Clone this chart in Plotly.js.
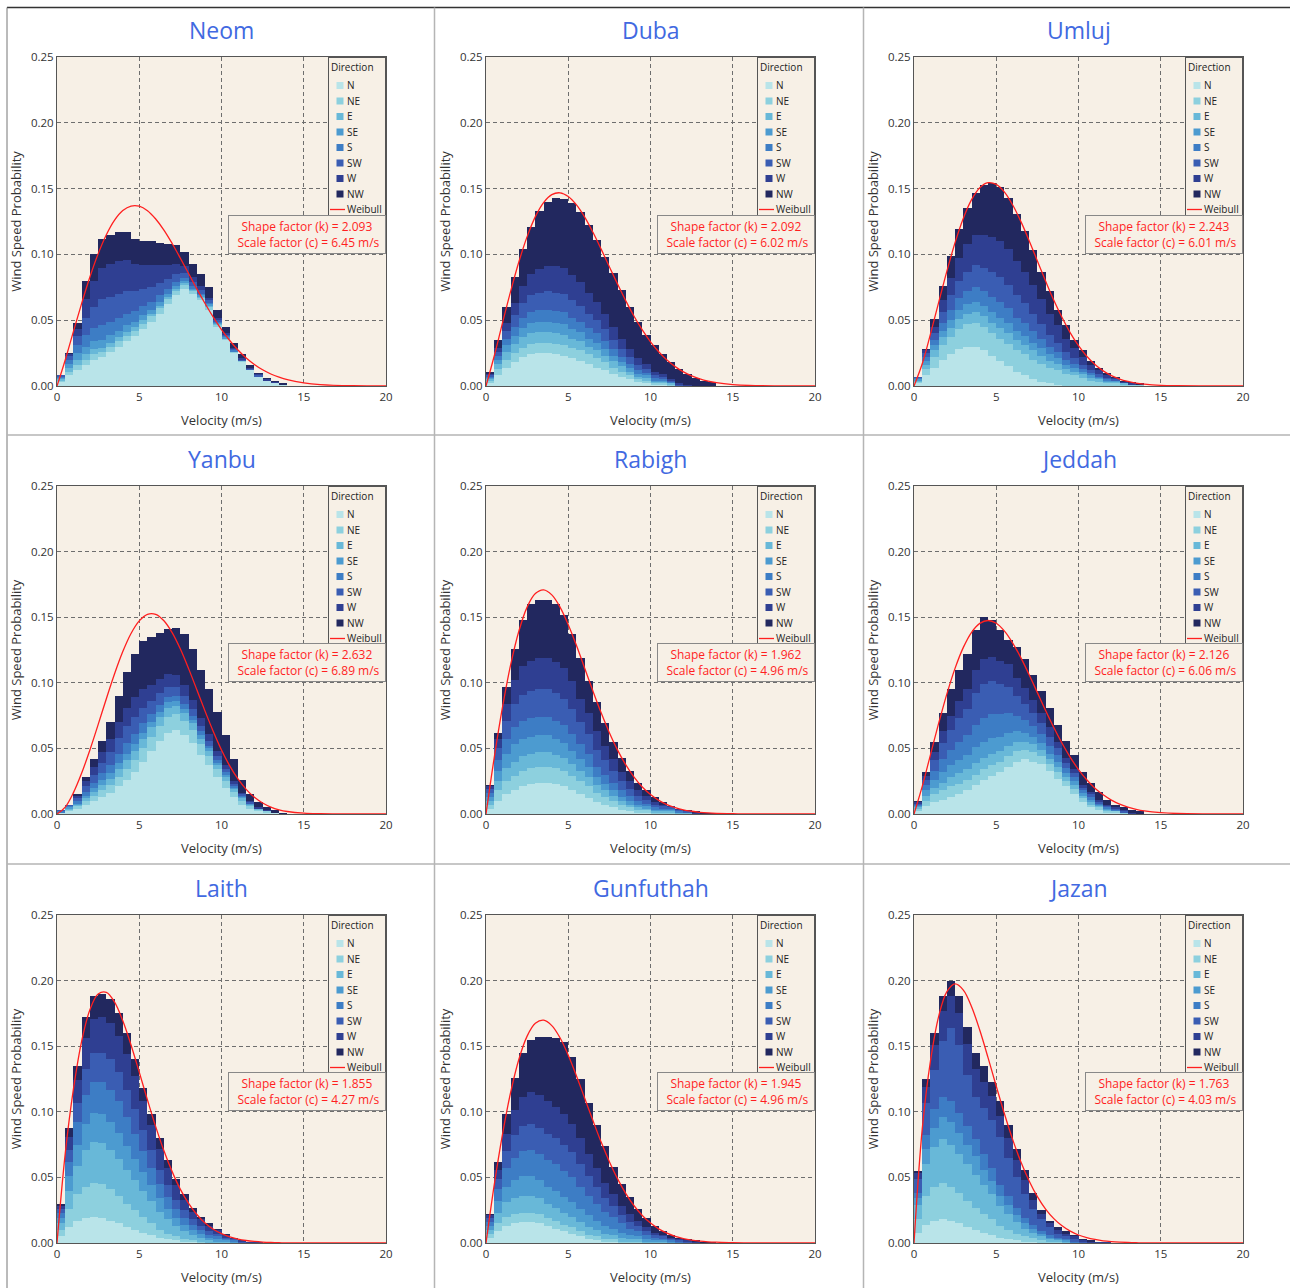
<!DOCTYPE html>
<html><head><meta charset="utf-8">
<script src="https://cdn.plot.ly/plotly-3.0.1.min.js"></script>
<style>html,body{margin:0;padding:0;background:#fff}#chart{width:1290px;height:1288px}</style>
</head><body><div id="chart"></div>
<script>
// ---------------- DATA ----------------
const stations = ['Neom','Duba','Umluj','Yanbu','Rabigh','Jeddah','Laith','Gunfuthah','Jazan'];
const shapeK = [2.093, 2.092, 2.243, 2.632, 1.962, 2.126, 1.855, 1.945, 1.763];
const scaleC = [6.45, 6.02, 6.01, 6.89, 4.96, 6.06, 4.27, 4.96, 4.03];
const directions = ['N','NE','E','SE','S','SW','W','NW'];
const velocityTicks = [0, 5, 10, 15, 20];
const probTicks = [0, 0.05, 0.10, 0.15, 0.20, 0.25];

// histogram bin centres (m/s), 0.5 m/s bins
const binCenters = [0.25,0.75,1.25,1.75,2.25,2.75,3.25,3.75,4.25,4.75,5.25,5.75,6.25,6.75,7.25,7.75,8.25,8.75,9.25,9.75,10.25,10.75,11.25,11.75,12.25,12.75,13.25,13.75];
// velocities at which the Weibull curve is read
const weibullX = [0,0.5,1,1.5,2,2.5,3,3.5,4,4.5,5,5.5,6,6.5,7,7.5,8,8.5,9,9.5,10,10.5,11,11.5,12,12.5,13,13.5,14,15,16,18,20];

// stacked histogram layers, probability in per-mille (x 0.001)
const neomN  = [3,8,12,16,20,22,26,30,34,38,43,49,55,62,69,74,70,65,58,45,35,25,18,12,7,4,2,1];
const neomNE = [1,3,4,4,4,4,4,4,4,4,4,4,4,4,3,3,2,2,2,1,1,1,1,0,0,0,0,0];
const neomE  = [1,3,4,4,4,3,3,3,3,3,3,2,2,2,2,1,1,1,1,1,0,0,0,0,0,0,0,0];
const neomSE = [1,3,5,6,6,6,6,5,5,4,4,3,3,2,2,2,1,1,1,1,1,0,0,0,0,0,0,0];
const neomS  = [1,3,6,9,10,11,10,10,9,8,7,6,5,4,3,2,2,1,1,1,1,1,0,0,0,0,0,0];
const neomSW = [1,3,7,13,16,20,19,18,17,15,13,11,9,7,6,4,3,3,2,1,1,1,1,1,1,0,0,0];
const neomW  = [0,1,5,14,20,24,25,25,24,21,18,17,14,11,8,5,4,3,2,2,1,1,1,1,1,1,1,0];
const neomNW = [0,1,5,14,20,22,22,22,21,19,18,18,17,16,14,11,10,9,8,6,5,4,3,2,1,1,1,1];

const dubaN  = [2,8,14,18,22,24,25,25,24,23,21,19,17,14,12,9,7,5,3,2,1,1,0,0,0,0,0,0];
const dubaNE = [2,5,6,7,7,8,8,8,8,8,8,8,7,7,6,5,4,3,2,2,1,1,1,0,0,0,0,0];
const dubaE  = [1,4,6,7,8,8,8,8,8,8,7,7,6,6,5,5,4,3,2,2,1,1,1,0,0,0,0,0];
const dubaSE = [1,3,5,6,7,8,8,8,8,8,7,7,6,6,5,4,3,3,2,2,1,1,0,0,0,0,0,0];
const dubaS  = [1,3,5,7,8,8,9,9,9,9,9,8,8,7,6,5,4,3,3,2,2,1,1,0,0,0,0,0];
const dubaSW = [1,3,6,9,11,13,13,14,14,14,13,12,11,10,9,7,6,5,4,3,2,2,1,1,0,0,0,0];
const dubaW  = [1,3,6,9,13,16,18,19,20,20,19,18,16,14,12,10,8,6,5,4,3,2,1,1,1,0,0,0];
const dubaNW = [2,6,12,20,28,36,44,49,52,52,55,53,51,47,43,41,37,32,28,22,20,15,13,11,8,6,4,3];

const umlujN  = [2,8,14,20,24,28,30,30,27,23,19,15,11,8,5,3,2,1,0,0,0,0,0,0,0,0,0,0];
const umlujNE = [1,5,8,11,13,15,17,18,18,17,17,17,16,16,15,14,12,11,9,8,6,4,3,2,2,1,1,1];
const umlujE  = [1,3,5,6,7,8,8,8,8,8,8,8,8,7,7,6,5,5,4,3,3,2,2,1,1,1,0,0];
const umlujSE = [1,3,4,5,6,7,7,8,8,8,8,8,7,7,6,6,5,4,3,3,2,2,1,1,1,0,0,0];
const umlujS  = [1,3,4,6,8,9,10,11,11,12,12,11,10,10,9,7,6,5,4,3,2,2,1,1,0,0,0,0];
const umlujSW = [1,3,5,8,11,13,15,17,18,19,19,18,17,15,13,11,9,7,6,4,3,2,2,1,1,0,0,0];
const umlujW  = [0,2,5,9,13,17,21,23,25,26,27,27,26,24,22,19,16,13,10,8,6,4,3,2,1,1,1,0];
const umlujNW = [0,1,6,11,17,22,27,32,38,41,41,39,36,31,26,21,17,12,10,6,5,3,2,2,1,1,1,1];

const yanbuN  = [1,2,4,7,10,13,16,21,26,32,40,48,56,62,64,60,54,45,37,28,20,13,7,4,2,1,1,0];
const yanbuNE = [0,1,2,3,4,5,6,7,8,9,10,11,11,12,12,11,10,8,7,6,5,4,3,2,1,1,0,0];
const yanbuE  = [0,1,1,2,3,4,5,6,7,7,7,7,7,7,6,6,5,4,4,3,3,2,2,1,1,0,0,0];
const yanbuSE = [0,1,1,2,3,4,4,5,5,5,5,4,4,4,4,3,3,3,2,2,2,1,1,1,0,0,0,0];
const yanbuS  = [1,1,2,3,4,5,6,7,8,8,7,6,5,4,4,4,3,3,2,2,2,1,1,0,0,0,0,0];
const yanbuSW = [1,1,2,4,6,8,10,12,13,13,12,10,9,8,7,6,5,4,4,3,2,2,1,1,0,0,0,0];
const yanbuW  = [0,0,2,4,6,8,10,12,14,15,14,12,11,10,9,8,7,6,5,4,3,2,1,1,1,1,0,0];
const yanbuNW = [0,0,1,3,6,9,13,20,27,33,37,37,35,34,36,39,39,37,34,30,23,17,10,5,4,2,2,1];

const rabighN  = [4,10,15,18,21,23,24,24,23,21,18,15,12,9,7,5,3,2,1,1,0,0,0,0,0,0,0,0];
const rabighNE = [3,8,10,11,12,12,12,12,12,12,11,10,9,7,6,5,4,3,2,2,1,1,1,0,0,0,0,0];
const rabighE  = [3,7,10,11,11,11,11,11,10,10,9,8,7,6,5,4,3,2,2,1,1,1,1,1,1,0,0,0];
const rabighSE = [3,8,11,13,13,13,13,13,12,11,10,9,8,6,5,4,3,3,2,2,1,1,1,0,0,0,0,0];
const rabighS  = [3,8,11,13,14,14,14,14,14,14,13,11,10,8,7,6,5,4,3,2,2,1,1,1,0,0,0,0];
const rabighSW = [3,9,14,18,20,21,21,21,21,20,19,17,15,13,11,9,7,5,4,3,2,2,1,1,1,0,0,0];
const rabighW  = [2,7,13,18,22,23,24,24,24,23,21,18,16,14,11,9,7,6,4,3,2,1,1,1,0,1,0,0];
const rabighNW = [1,5,13,24,35,43,44,44,44,41,36,31,24,22,17,13,11,8,6,4,4,2,0,0,1,1,1,1];

const jeddahN  = [2,6,9,11,13,15,18,22,26,29,32,36,40,42,40,38,33,27,21,15,9,5,3,1,1,0,0,0];
const jeddahNE = [2,4,6,7,8,8,8,8,8,8,8,8,8,7,7,6,5,5,4,4,3,2,2,1,1,1,0,0];
const jeddahE  = [1,4,5,6,7,8,8,9,9,9,8,8,7,6,6,5,4,4,3,3,2,2,1,1,0,0,0,0];
const jeddahSE = [1,4,6,8,9,10,11,12,12,12,11,10,8,7,6,5,4,4,3,3,2,2,1,1,0,0,0,0];
const jeddahS  = [1,4,7,10,12,14,15,17,18,18,17,15,12,10,8,7,6,5,4,3,2,2,1,1,1,0,0,0];
const jeddahSW = [1,4,8,12,15,18,20,24,26,25,23,20,15,12,10,8,7,5,4,3,2,2,1,1,1,1,0,0];
const jeddahW  = [1,3,6,9,11,13,15,18,19,19,18,17,14,12,10,8,7,5,4,3,2,2,2,1,1,1,1,0];
const jeddahNW = [1,3,8,14,20,24,27,30,32,28,23,19,23,22,19,17,15,13,13,11,10,7,6,4,2,2,2,2];

const laithN  = [5,12,17,19,20,19,17,15,12,10,8,6,4,3,2,1,1,0,0,0,0,0,0,0,0,0,0,0];
const laithNE = [5,14,20,24,26,26,24,21,18,15,12,9,6,4,3,2,1,1,0,0,0,0,0,0,0,0,0,0];
const laithE  = [5,14,22,28,31,31,30,28,26,23,20,17,14,11,8,6,4,3,2,1,1,0,0,0,0,0,0,0];
const laithSE = [4,11,16,20,22,22,21,20,18,16,14,12,10,8,6,5,4,3,2,2,1,1,0,0,0,0,0,0];
const laithS  = [4,11,17,22,24,25,25,24,22,19,16,13,11,9,7,5,4,3,2,2,1,1,0,0,0,0,0,0];
const laithSW = [3,9,15,20,22,22,23,22,21,19,16,14,11,9,7,6,4,3,3,2,1,1,1,0,0,0,0,0];
const laithW  = [2,10,17,23,26,27,28,28,27,25,22,19,16,13,11,8,6,5,4,3,2,1,1,1,1,0,0,0];
const laithNW = [2,7,11,16,17,18,18,17,16,13,10,8,8,6,5,4,3,2,2,1,1,0,0,0,0,0,0,0];

const gunfN  = [4,9,13,15,16,16,15,13,11,9,7,5,3,2,1,1,0,0,0,0,0,0,0,0,0,0,0,0];
const gunfNE = [3,6,7,7,7,7,7,6,6,5,5,4,3,3,2,2,1,1,1,0,0,0,0,0,0,0,0,0];
const gunfE  = [3,8,11,12,13,13,12,11,10,9,8,7,6,5,4,3,3,2,2,1,1,1,0,0,0,0,0,0];
const gunfSE = [3,9,12,14,15,15,14,13,13,12,11,10,9,7,6,5,4,3,2,2,1,1,1,0,0,0,0,0];
const gunfS  = [3,9,14,17,19,20,20,20,20,20,19,17,15,13,11,9,7,5,4,3,2,1,1,1,0,0,0,0];
const gunfSW = [3,8,13,17,19,20,20,20,20,20,19,17,15,13,10,8,6,5,4,3,2,2,1,1,1,0,0,0];
const gunfW  = [2,7,13,19,22,24,25,25,24,23,22,20,17,14,12,9,7,6,4,3,2,1,1,1,1,1,0,0];
const gunfNW = [1,6,15,25,34,40,44,49,52,55,51,45,39,33,28,21,17,13,9,7,5,3,2,1,1,1,1,1];

const jazanN  = [8,14,17,18,17,15,12,10,8,6,4,3,2,1,1,0,0,0,0,0,0,0,0,0,0,0,0,0];
const jazanNE = [10,22,26,28,26,23,20,17,14,12,9,7,5,4,3,2,1,1,0,0,0,0,0,0,0,0,0,0];
const jazanE  = [11,24,30,33,32,30,28,25,22,19,15,12,9,6,4,3,2,1,1,0,0,0,0,0,0,0,0,0];
const jazanSE = [5,12,15,17,17,16,15,14,12,10,8,7,5,4,3,2,1,1,1,0,0,0,0,0,0,0,0,0];
const jazanS  = [4,10,14,15,16,15,14,13,12,10,8,7,6,4,3,2,2,1,1,1,0,0,0,0,0,0,0,0];
const jazanSW = [11,25,30,43,56,52,39,32,35,37,37,29,23,18,12,9,6,3,2,2,1,0,0,0,0,0,0,0];
const jazanW  = [4,12,19,23,24,24,24,22,20,18,16,15,13,11,7,4,3,3,2,2,1,1,1,1,0,0,0,0];
const jazanNW = [2,6,9,11,12,13,13,12,12,11,11,10,9,8,5,3,2,2,2,1,1,1,0,0,0,0,0,0];

// fitted Weibull probability density read at weibullX
const neomWeibull   = [0,0.0198,0.0415,0.0628,0.0828,0.1004,0.1149,0.1260,0.1333,0.1367,0.1366,0.1332,0.1269,0.1185,0.1083,0.0971,0.0855,0.0738,0.0627,0.0523,0.0429,0.0346,0.0273,0.0213,0.0164,0.0123,0.0091,0.0067,0.0048,0.0024,0.0011,0.0002,0];
const dubaWeibull   = [0,0.0228,0.0478,0.0721,0.0944,0.1135,0.1287,0.1394,0.1454,0.1468,0.1440,0.1376,0.1283,0.1168,0.1040,0.0906,0.0774,0.0647,0.0530,0.0426,0.0336,0.0260,0.0197,0.0147,0.0107,0.0077,0.0054,0.0037,0.0025,0.0011,0.0004,0.0001,0];
const umlujWeibull  = [0,0.0169,0.0394,0.0636,0.0873,0.1091,0.1275,0.1416,0.1507,0.1545,0.1532,0.1473,0.1375,0.1249,0.1104,0.0950,0.0797,0.0651,0.0520,0.0404,0.0306,0.0226,0.0163,0.0115,0.0079,0.0053,0.0035,0.0022,0.0014,0.0005,0.0002,0,0];
const yanbuWeibull  = [0,0.0053,0.0163,0.0312,0.0488,0.0681,0.0879,0.1069,0.1238,0.1376,0.1472,0.1522,0.1522,0.1473,0.1382,0.1257,0.1108,0.0947,0.0784,0.0629,0.0488,0.0367,0.0267,0.0188,0.0127,0.0084,0.0053,0.0032,0.0019,0.0006,0.0002,0,0];
const rabighWeibull = [0,0.0430,0.0812,0.1138,0.1395,0.1577,0.1680,0.1708,0.1670,0.1577,0.1443,0.1284,0.1111,0.0937,0.0771,0.0620,0.0487,0.0374,0.0281,0.0206,0.0148,0.0104,0.0072,0.0049,0.0032,0.0021,0.0013,0.0008,0.0005,0.0002,0.0001,0,0];
const jeddahWeibull = [0,0.0210,0.0451,0.0692,0.0916,0.1112,0.1270,0.1385,0.1453,0.1475,0.1454,0.1394,0.1303,0.1190,0.1061,0.0925,0.0789,0.0659,0.0539,0.0432,0.0339,0.0261,0.0197,0.0146,0.0106,0.0075,0.0052,0.0036,0.0024,0.0010,0.0004,0.0001,0];
const laithWeibull  = [0,0.0681,0.1174,0.1539,0.1778,0.1898,0.1911,0.1836,0.1694,0.1509,0.1302,0.1090,0.0887,0.0703,0.0544,0.0409,0.0302,0.0217,0.0152,0.0105,0.0071,0.0046,0.0030,0.0019,0.0012,0.0007,0.0004,0.0002,0.0001,0,0,0,0];
const gunfWeibull   = [0,0.0443,0.0826,0.1149,0.1401,0.1577,0.1674,0.1698,0.1657,0.1564,0.1431,0.1273,0.1103,0.0933,0.0769,0.0620,0.0489,0.0377,0.0284,0.0210,0.0152,0.0108,0.0075,0.0051,0.0034,0.0022,0.0014,0.0009,0.0006,0.0002,0.0001,0,0];
const jazanWeibull  = [0,0.0868,0.1386,0.1728,0.1916,0.1975,0.1928,0.1801,0.1621,0.1413,0.1195,0.0983,0.0788,0.0617,0.0473,0.0354,0.0259,0.0186,0.0131,0.0090,0.0061,0.0041,0.0027,0.0017,0.0011,0.0007,0.0004,0.0002,0.0001,0,0,0,0];

// ---------------- assembly ----------------
const stationLayers = [
  [neomN,neomNE,neomE,neomSE,neomS,neomSW,neomW,neomNW],
  [dubaN,dubaNE,dubaE,dubaSE,dubaS,dubaSW,dubaW,dubaNW],
  [umlujN,umlujNE,umlujE,umlujSE,umlujS,umlujSW,umlujW,umlujNW],
  [yanbuN,yanbuNE,yanbuE,yanbuSE,yanbuS,yanbuSW,yanbuW,yanbuNW],
  [rabighN,rabighNE,rabighE,rabighSE,rabighS,rabighSW,rabighW,rabighNW],
  [jeddahN,jeddahNE,jeddahE,jeddahSE,jeddahS,jeddahSW,jeddahW,jeddahNW],
  [laithN,laithNE,laithE,laithSE,laithS,laithSW,laithW,laithNW],
  [gunfN,gunfNE,gunfE,gunfSE,gunfS,gunfSW,gunfW,gunfNW],
  [jazanN,jazanNE,jazanE,jazanSE,jazanS,jazanSW,jazanW,jazanNW]
];
const stationWeibull = [neomWeibull,dubaWeibull,umlujWeibull,yanbuWeibull,rabighWeibull,jeddahWeibull,laithWeibull,gunfWeibull,jazanWeibull];

const dirColors = ['#b9e4e9','#8dd0de','#68b8d8','#4c9bd0','#3d7dc5','#3a5db3','#2f3f92','#22285f'];
const W = 1290, H = 1288;
const colPx = [[57,386],[486,815],[914,1243]];
const rowPx = [[57,386],[486,814],[915,1243]];
const BG = '#f7f0e6';
const FONT = '"Open Sans", "DejaVu Sans", sans-serif';

const traces = [];
const layout = {
  width: W, height: H, margin: {l:0, r:0, t:0, b:0},
  paper_bgcolor: '#ffffff', plot_bgcolor: BG,
  barmode: 'stack', bargap: 0, showlegend: true,
  font: {family: FONT, color: '#333'},
  annotations: [], shapes: []
};

stations.forEach(function(name, p){
  const r = Math.floor(p/3), c = p % 3;
  const sfx = p === 0 ? '' : String(p+1);
  const xa = 'x' + sfx, ya = 'y' + sfx, lg = 'legend' + sfx;
  directions.forEach(function(d, j){
    traces.push({
      type: 'bar', x: binCenters, y: stationLayers[p][j].map(function(v){return v/1000;}),
      width: 0.5, name: d, marker: {color: dirColors[j], line: {width: 0}},
      xaxis: xa, yaxis: ya, legend: lg, hoverinfo: 'skip'
    });
  });
  traces.push({
    type: 'scatter', mode: 'lines', x: weibullX, y: stationWeibull[p], name: 'Weibull',
    line: {color: '#ff1f1f', width: 1.3, shape: 'spline'},
    xaxis: xa, yaxis: ya, legend: lg, hoverinfo: 'skip'
  });

  const axCommon = {
    ticks: '', showgrid: true, gridcolor: '#6e6e6e', griddash: '4px,3px', gridwidth: 1,
    zeroline: false, showline: true, mirror: true, linecolor: '#555', linewidth: 1,
    tickfont: {size: 11.5, color: '#333', family: FONT}, fixedrange: true
  };
  layout['xaxis' + sfx] = Object.assign({}, axCommon, {
    domain: [colPx[c][0]/W, colPx[c][1]/W], anchor: ya, range: [0, 20],
    tickvals: velocityTicks,
    title: {text: 'Velocity (m/s)', font: {size: 13, color: '#333', family: FONT}, standoff: 13}
  });
  layout['yaxis' + sfx] = Object.assign({}, axCommon, {
    domain: [1 - rowPx[r][1]/H, 1 - rowPx[r][0]/H], anchor: xa, range: [0, 0.25],
    tickvals: probTicks, tickformat: '.2f',
    title: {text: 'Wind Speed Probability', font: {size: 13, color: '#333', family: FONT}, standoff: 6}
  });
  layout[lg] = {
    x: colPx[c][1]/W, xanchor: 'right', y: 1 - rowPx[r][0]/H, yanchor: 'top',
    bgcolor: BG, bordercolor: '#555', borderwidth: 1,
    font: {size: 10, color: '#222', family: FONT},
    title: {text: 'Direction', font: {size: 10, color: '#222', family: FONT}},
    traceorder: 'normal', itemwidth: 30, tracegroupgap: 0
  };
  // station title
  layout.annotations.push({
    xref: 'paper', yref: 'paper', x: (colPx[c][0] + colPx[c][1]) / 2 / W, y: 1 - (rowPx[r][0] - 27) / H,
    xanchor: 'center', yanchor: 'middle', showarrow: false, text: name,
    font: {size: 23, color: '#4169e1', family: FONT}
  });
  // Weibull parameter box
  layout.annotations.push({
    xref: xa + ' domain', yref: ya + ' domain', x: 1, y: 0.52, xanchor: 'right', yanchor: 'top',
    showarrow: false, align: 'center',
    text: 'Shape factor (k) = ' + shapeK[p].toFixed(3) + '<br> Scale factor (c) = ' + scaleC[p].toFixed(2) + ' m/s',
    font: {size: 12, color: '#ff1f1f', family: FONT},
    bgcolor: BG, bordercolor: '#888', borderwidth: 1, borderpad: 3, width: 150, height: 31
  });
});

// panel frame / separator lines
function pline(x0, y0, x1, y1, color, w){
  layout.shapes.push({type: 'line', xref: 'paper', yref: 'paper', x0: x0/W, x1: x1/W, y0: 1 - y0/H, y1: 1 - y1/H, line: {color: color, width: w}});
}
pline(7, 7.5, 1290, 7.5, '#333', 1.5);
pline(7, 7.5, 7, 1288, '#777', 1);
pline(7, 435, 1290, 435, '#b5b5b5', 1.5);
pline(7, 864, 1290, 864, '#b5b5b5', 1.5);
pline(434.5, 7.5, 434.5, 1288, '#b5b5b5', 1.5);
pline(863.5, 7.5, 863.5, 1288, '#b5b5b5', 1.5);

function shiftX(el, dx){
  const t = el.getAttribute('transform') || '';
  el.setAttribute('transform', 'translate(' + dx + ',0) ' + t);
}

Plotly.newPlot('chart', traces, layout, {staticPlot: true, displayModeBar: false}).then(function(gd){
  // compact the legends to match the narrow legend of the original figure
  const step = 15.5, LW = 58;
  const groups = gd.querySelectorAll('g.infolayer > g');
  groups.forEach(function(lg){
    const cls = lg.getAttribute('class') || '';
    const mm = /^legend(\d*)$/.exec(cls);
    if(!mm) return;
    const p = mm[1] === '' ? 0 : parseInt(mm[1], 10) - 1;
    const c = p % 3;
    const R = colPx[c][1], L = R - LW;
    const items = lg.querySelectorAll('g.traces');
    if(!items.length) return;
    const pos = [];
    items.forEach(function(it){
      const m = /translate\(\s*([-\d.e]+)[ ,]+([-\d.e]+)/.exec(it.getAttribute('transform') || '');
      pos.push(m ? [parseFloat(m[1]), parseFloat(m[2])] : [0, 0]);
    });
    const y0 = pos[0][1];
    const bg = lg.querySelector('rect.bg');
    if(bg){
      const oldH = parseFloat(bg.getAttribute('height'));
      const delta = (pos[pos.length-1][1] - y0) - (items.length-1)*step;
      bg.setAttribute('height', oldH - delta);
      const br = bg.getBoundingClientRect();
      bg.setAttribute('x', parseFloat(bg.getAttribute('x') || 0) + (L - br.left));
      bg.setAttribute('width', parseFloat(bg.getAttribute('width')) - (L - br.left));
    }
    items.forEach(function(it, i){
      it.setAttribute('transform', 'translate(' + pos[i][0] + ',' + (y0 + i*step) + ')');
      it.querySelectorAll('.legendpoints path').forEach(function(pt){
        const d = pt.getAttribute('d') || '';
        if(d.indexOf('M6,6H-6V-6H6Z') === 0) pt.setAttribute('d', 'M3.5,3.5H-3.5V-3.5H3.5Z');
      });
      let isLine = false;
      it.querySelectorAll('.legendlines path').forEach(function(pt){
        pt.setAttribute('d', 'M0,0h15'); isLine = true;
      });
      const sym = [], txt = [];
      Array.prototype.forEach.call(it.children, function(ch){
        const tag = (ch.tagName || '').toLowerCase();
        if(tag === 'text') txt.push(ch);
        else if(tag === 'g') sym.push(ch);
      });
      let sl = Infinity, sr = -Infinity;
      sym.forEach(function(s){
        const b = s.getBoundingClientRect();
        if(b.width > 0){ sl = Math.min(sl, b.left); sr = Math.max(sr, b.right); }
      });
      if(isFinite(sl)){
        const dx = isLine ? (L + 2 - sl) : (L + 12 - (sl + sr) / 2);
        sym.forEach(function(s){ shiftX(s, dx); });
      }
      txt.forEach(function(t){
        const b = t.getBoundingClientRect();
        shiftX(t, L + 19 - b.left);
      });
    });
    lg.querySelectorAll('text[class$="titletext"]').forEach(function(tt){
      const b = tt.getBoundingClientRect();
      shiftX(tt, L + 3 - b.left);
    });
  });
});
</script></body></html>
